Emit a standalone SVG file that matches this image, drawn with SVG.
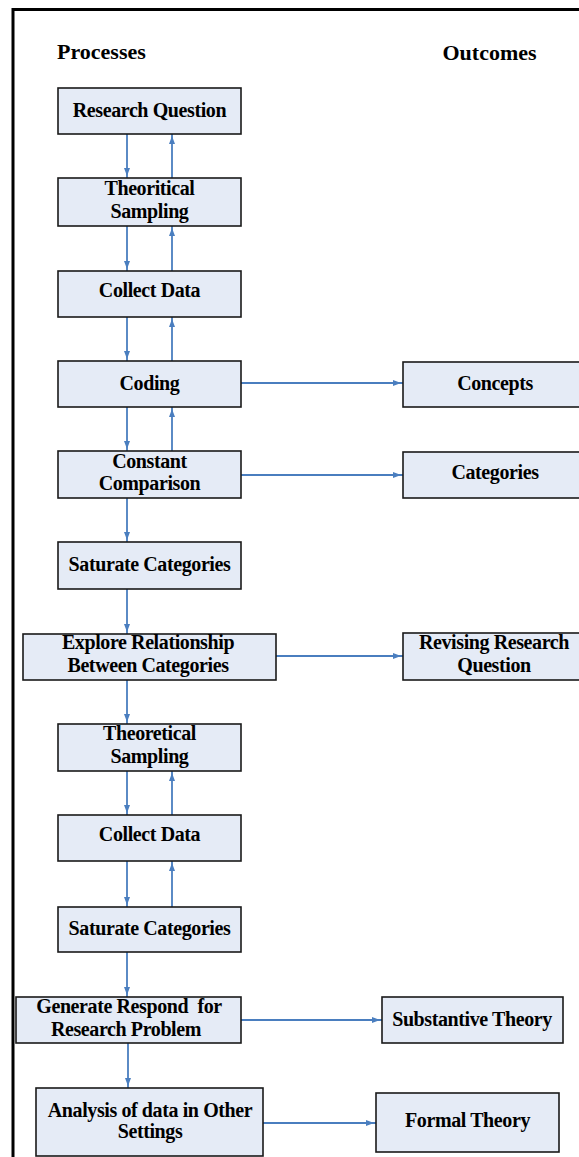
<svg xmlns="http://www.w3.org/2000/svg" width="579" height="1157" viewBox="0 0 579 1157">
<style>
.box{fill:#e5ebf6;stroke:#1a1a1a;stroke-width:1.6}
.t{font-family:"Liberation Serif","Times New Roman",serif;font-weight:bold;font-size:20px;letter-spacing:-0.4px;fill:#000;text-anchor:middle}
.h{font-family:"Liberation Serif","Times New Roman",serif;font-weight:bold;font-size:22px;fill:#000}
.c{stroke:#4a7ebf;stroke-width:1.8;fill:none;marker-end:url(#ah)}
</style>
<defs>
<marker id="ah" markerUnits="userSpaceOnUse" markerWidth="12" markerHeight="8" refX="10" refY="3.5" orient="auto">
<path d="M0,0.5 L8,3.5 L0,6.5 z" fill="#4a7ebf"/>
</marker>
</defs>
<rect width="579" height="1157" fill="#fff"/>
<path d="M13,1157 V9.5 H579" fill="none" stroke="#000" stroke-width="3"/>
<text class="h" x="57" y="59">Processes</text>
<text class="h" x="489.5" y="60" text-anchor="middle">Outcomes</text>

<g id="connectors">
<line class="c" x1="127" y1="134" x2="127" y2="178"/>
<line class="c" x1="172" y1="178" x2="172" y2="134"/>
<line class="c" x1="127" y1="226" x2="127" y2="271"/>
<line class="c" x1="172" y1="271" x2="172" y2="226"/>
<line class="c" x1="127" y1="317" x2="127" y2="361"/>
<line class="c" x1="172" y1="361" x2="172" y2="317"/>
<line class="c" x1="127" y1="407" x2="127" y2="451"/>
<line class="c" x1="172" y1="451" x2="172" y2="407"/>
<line class="c" x1="127" y1="498" x2="127" y2="542"/>
<line class="c" x1="127" y1="589" x2="127" y2="634"/>
<line class="c" x1="127" y1="680" x2="127" y2="724"/>
<line class="c" x1="127" y1="771" x2="127" y2="815"/>
<line class="c" x1="172" y1="815" x2="172" y2="771"/>
<line class="c" x1="127" y1="861" x2="127" y2="907"/>
<line class="c" x1="172" y1="907" x2="172" y2="861"/>
<line class="c" x1="127" y1="952" x2="127" y2="997"/>
<line class="c" x1="128" y1="1043" x2="128" y2="1088"/>
<line class="c" x1="241" y1="383" x2="403" y2="383"/>
<line class="c" x1="241" y1="475" x2="403" y2="475"/>
<line class="c" x1="276" y1="656" x2="403" y2="656"/>
<line class="c" x1="241" y1="1020" x2="382" y2="1020"/>
<line class="c" x1="263" y1="1123" x2="376" y2="1123"/>
</g>

<g id="n1"><rect class="box" x="58" y="88" width="183" height="46"/><text class="t" x="149.5" y="117">Research Question</text></g>
<g id="n2"><rect class="box" x="58" y="178" width="183" height="48"/><text class="t" x="149.5" y="195">Theoritical</text><text class="t" x="149.5" y="218">Sampling</text></g>
<g id="n3"><rect class="box" x="58" y="271" width="183" height="46"/><text class="t" x="149.5" y="297">Collect Data</text></g>
<g id="n4"><rect class="box" x="58" y="361" width="183" height="46"/><text class="t" x="149.5" y="390">Coding</text></g>
<g id="n5"><rect class="box" x="58" y="451" width="183" height="47"/><text class="t" x="149.5" y="468">Constant</text><text class="t" x="149.5" y="490">Comparison</text></g>
<g id="n6"><rect class="box" x="58" y="542" width="183" height="47"/><text class="t" x="149.5" y="571">Saturate Categories</text></g>
<g id="n7"><rect class="box" x="23" y="634" width="253" height="46"/><text class="t" x="148" y="649">Explore Relationship</text><text class="t" x="148" y="672">Between Categories</text></g>
<g id="n8"><rect class="box" x="58" y="724" width="183" height="47"/><text class="t" x="149.5" y="740">Theoretical</text><text class="t" x="149.5" y="763">Sampling</text></g>
<g id="n9"><rect class="box" x="58" y="815" width="183" height="46"/><text class="t" x="149.5" y="841">Collect Data</text></g>
<g id="n10"><rect class="box" x="58" y="907" width="183" height="45"/><text class="t" x="149.5" y="935">Saturate Categories</text></g>
<g id="n11"><rect class="box" x="16" y="997" width="225" height="46"/><text class="t" x="129" y="1013" xml:space="preserve">Generate Respond  for</text><text class="t" x="126" y="1036">Research Problem</text></g>
<g id="n12"><rect class="box" x="36" y="1088" width="227" height="68"/><text class="t" x="150" y="1117">Analysis of data in Other</text><text class="t" x="150" y="1138">Settings</text></g>

<g id="o1"><rect class="box" x="403" y="362" width="190" height="45"/><text class="t" x="495" y="390">Concepts</text></g>
<g id="o2"><rect class="box" x="403" y="452" width="190" height="46"/><text class="t" x="495" y="479">Categories</text></g>
<g id="o3"><rect class="box" x="403" y="633" width="190" height="47"/><text class="t" x="494" y="649">Revising Research</text><text class="t" x="494" y="672">Question</text></g>
<g id="o4"><rect class="box" x="382" y="997" width="181" height="46"/><text class="t" x="472" y="1026">Substantive Theory</text></g>
<g id="o5"><rect class="box" x="376" y="1093" width="183" height="59"/><text class="t" x="467.5" y="1127">Formal Theory</text></g>
</svg>
